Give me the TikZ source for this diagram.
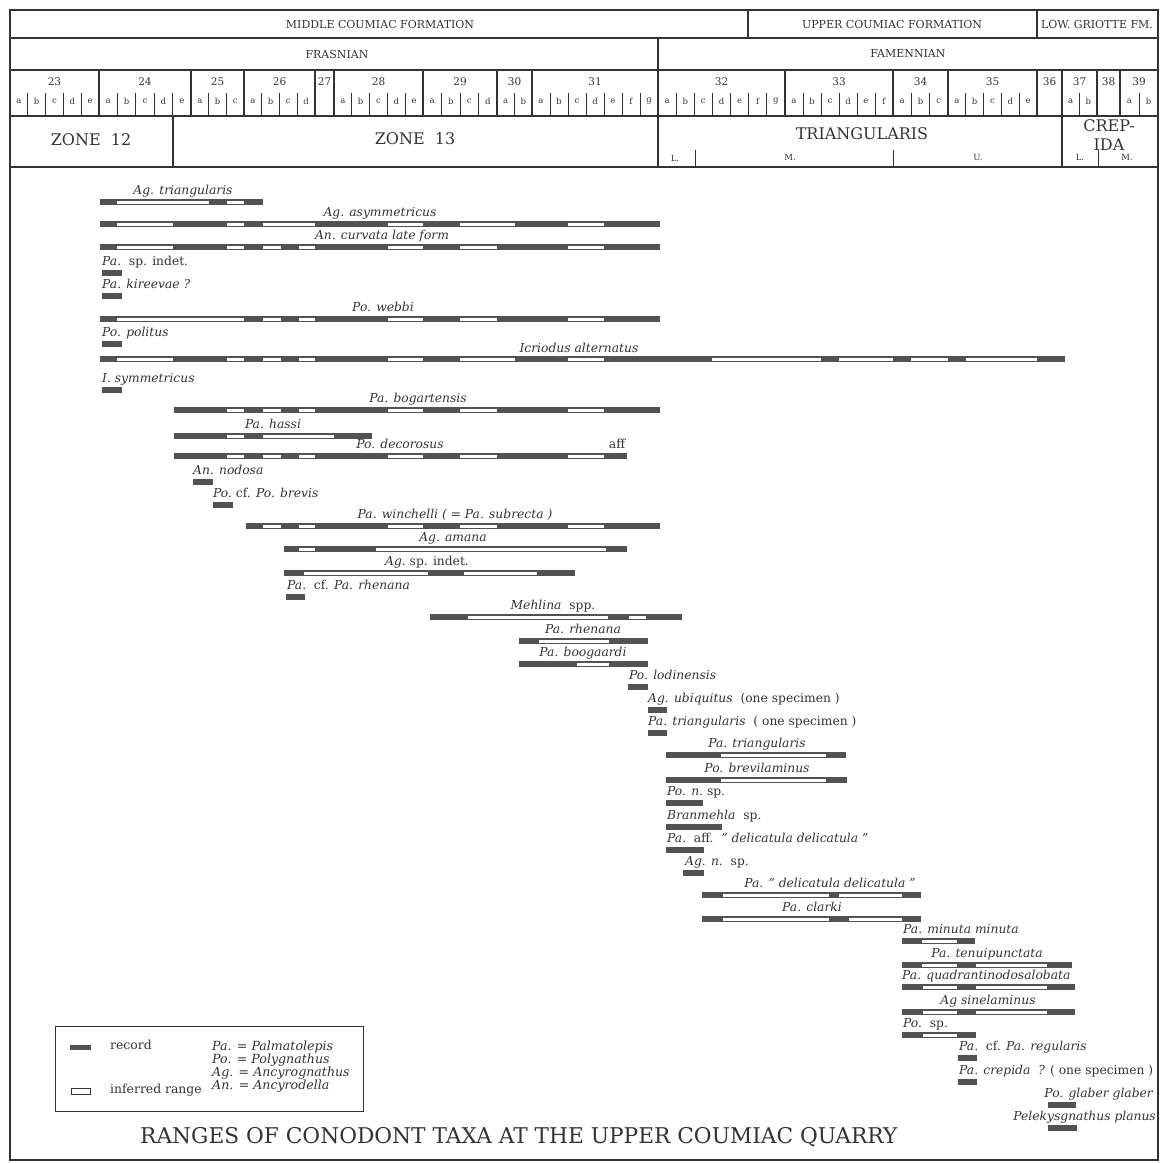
\documentclass[tikz,border=0pt]{standalone}
\usepackage{fontspec}
\setmainfont{DejaVu Serif}
\definecolor{rec}{gray}{0.32}
\definecolor{ink}{gray}{0.2}
\newcommand\taxbar[4]{%
  \fill[rec] (#2,#1-3.2) rectangle (#3,#1+3.2);
  \foreach \wa/\wb in {#4} {\fill[white] (\wa,#1-1.5) rectangle (\wb,#1+1.5);}}
\newcommand\recbar[3]{\fill[rec] (#2,#1-3.2) rectangle (#3,#1+3.2);}
\begin{document}
\begin{tikzpicture}[x=1pt,y=-1pt,
  frame/.style={draw=ink,line width=1.4pt},
  hline/.style={draw=ink,line width=1.1pt},
  tick/.style={draw=ink,line width=0.9pt},
  hdr/.style={inner sep=0pt,text=ink,font=\fontsize{11}{11}\selectfont},
  num/.style={inner sep=0pt,text=ink,font=\fontsize{10.5}{10.5}\selectfont},
  let/.style={inner sep=0pt,text=ink,font=\fontsize{8.5}{8.5}\selectfont},
  zone/.style={inner sep=0pt,text=ink,font=\fontsize{16}{16}\selectfont},
  sub/.style={inner sep=0pt,text=ink,font=\fontsize{8.5}{8.5}\selectfont},
  lab/.style={inner sep=0pt,text=ink,font=\fontsize{12.3}{12.3}\selectfont\itshape},
  leg/.style={inner sep=0pt,text=ink,font=\fontsize{12.4}{12.4}\selectfont},
  legi/.style={inner sep=0pt,text=ink,font=\fontsize{12.6}{12.6}\selectfont\itshape}]
\useasboundingbox (0,0) rectangle (1172,1162);
% ---------- frame and header grid ----------
\draw[frame] (10,10) rectangle (1158,1160);
\foreach \yy in {38,70,116,167} \draw[hline] (10,\yy) -- (1158,\yy);
\draw[hline] (748,10) -- (748,38);
\draw[hline] (1037,10) -- (1037,38);
\draw[hline] (658,38) -- (658,167);
\foreach \xx in {99,191,244,315,334,423,497,532,785,893,948,1037,1062,1097,1120}
  \draw[hline] (\xx,70) -- (\xx,116);
\draw[hline] (173,116) -- (173,167);
\draw[hline] (1062,116) -- (1062,167);
\draw[tick] (695,150) -- (695,167);
\draw[tick] (893,150) -- (893,167);
\draw[tick] (1098,150) -- (1098,167);
% header texts
\node[hdr] (fmMid) at (380,24) {MIDDLE COUMIAC FORMATION};
\node[hdr] (fmUp) at (892,24) {UPPER COUMIAC FORMATION};
\node[hdr] (fmLow) at (1097,24) {LOW. GRIOTTE FM.};
\node[hdr] (frasnian) at (337,54) {FRASNIAN};
\node[hdr] (famennian) at (908,54) {FAMENNIAN};
% beds with sub-beds
\foreach \bn/\xa/\xb/\nn in {23/10/99/5,24/99/191/5,25/191/244/3,26/244/315/4,
  28/334/423/5,29/423/497/4,30/497/532/2,31/532/658/7,32/658/785/7,33/785/893/6,
  34/893/948/3,35/948/1037/5,37/1062/1097/2,39/1120/1158/2}{
  \node[num] (bed\bn) at ({(\xa+\xb)/2},82) {\bn};
  \pgfmathsetmacro\ww{(\xb-\xa)/\nn}
  \foreach \i in {1,...,\nn}{
    \node[let] (bed\bn-\i) at ({\xa+(\i-0.5)*\ww},101)
      {\ifcase\i\or a\or b\or c\or d\or e\or f\or g\fi};
    \ifnum\i<\nn \draw[tick] ({\xa+\i*\ww},93) -- ({\xa+\i*\ww},116);\fi
  }
}
\node[num] (bed27) at (324.5,82) {27};
\node[num] (bed36) at (1049.5,82) {36};
\node[num] (bed38) at (1108.5,82) {38};
% zones
\node[zone] (z12) at (91,140) {ZONE\ \ 12};
\node[zone] (z13) at (415,139) {ZONE\ \ 13};
\node[zone] (ztri) at (862,134) {TRIANGULARIS};
\node[zone] (zcr1) at (1109,126) {CREP-};
\node[zone] (zcr2) at (1109,145) {IDA};
\node[sub] (zL) at (675,158) {L.};
\node[sub] (zM) at (790,157) {M.};
\node[sub] (zU) at (978,157) {U.};
\node[sub] (zcL) at (1080,157) {L.};
\node[sub] (zcM) at (1127,157) {M.};
% ---------- taxa ----------
\taxbar{202}{100}{263}{117/209,227/244}
\node[lab,anchor=base] (t1) at (183,194) {Ag. triangularis};
\taxbar{224}{100}{660}{117/173,227/244,263/315,388/423,460/515,568/604}
\node[lab,anchor=base] (t2) at (380,216) {Ag. asymmetricus};
\taxbar{247}{100}{660}{117/173,227/244,263/281,299/315,388/423,460/497,568/604}
\node[lab,anchor=base] (t3) at (382,239) {An. curvata late form};
\recbar{273}{102}{122}
\node[lab,anchor=base west] (t4) at (102,265) {Pa.\ \ \textup{sp. indet.}};
\recbar{296}{102}{122}
\node[lab,anchor=base west] (t5) at (102,288) {Pa. kireevae ?};
\taxbar{319}{100}{660}{117/244,263/281,299/315,388/423,460/497,568/604}
\node[lab,anchor=base] (t6) at (383,311) {Po. webbi};
\recbar{344}{102}{122}
\node[lab,anchor=base west] (t7) at (102,336) {Po. politus};
\taxbar{359}{100}{1065}{117/173,227/244,263/281,299/315,388/423,460/515,568/604,712/821,839/893,911/948,966/1037}
\node[lab,anchor=base] (t8) at (579,352) {Icriodus alternatus};
\recbar{390}{102}{122}
\node[lab,anchor=base west] (t9) at (102,382) {I. symmetricus};
\taxbar{410}{174}{660}{227/244,263/281,299/315,388/423,460/497,568/604}
\node[lab,anchor=base] (t10) at (418,402) {Pa. bogartensis};
\taxbar{436}{174}{372}{227/244,263/334}
\node[lab,anchor=base] (t11) at (273,428) {Pa. hassi};
\taxbar{456}{174}{627}{227/244,263/281,299/315,388/423,460/497,568/604}
\node[lab,anchor=base] (t12) at (400,448) {Po. decorosus};
\node[leg,anchor=base] (t12a) at (617,448) {aff};
\recbar{482}{193}{213}
\node[lab,anchor=base west] (t13) at (193,474) {An. nodosa};
\recbar{505}{213}{233}
\node[lab,anchor=base west] (t14) at (213,497) {Po.\ \textup{cf.} Po. brevis};
\taxbar{526}{246}{660}{263/281,299/315,388/423,460/497,568/604}
\node[lab,anchor=base] (t15) at (455,518) {Pa. winchelli ( = Pa. subrecta )};
\taxbar{549}{284}{627}{299/315,376/606}
\node[lab,anchor=base] (t16) at (453,541) {Ag. amana};
\taxbar{573}{284}{575}{304/428,464/537}
\node[lab,anchor=base] (t17) at (427,565) {Ag.\ \textup{sp. indet.}};
\recbar{597}{286}{305}
\node[lab,anchor=base west] (t18) at (287,589) {Pa.\ \ \textup{cf.} Pa. rhenana};
\taxbar{617}{430}{682}{468/608,629/646}
\node[lab,anchor=base] (t19) at (553,609) {Mehlina\ \ \textup{spp.}};
\taxbar{641}{519}{648}{539/609}
\node[lab,anchor=base] (t20) at (583,633) {Pa. rhenana};
\taxbar{664}{519}{648}{577/609}
\node[lab,anchor=base] (t21) at (583,656) {Pa. boogaardi};
\recbar{687}{628}{648}
\node[lab,anchor=base west] (t22) at (629,679) {Po. lodinensis};
\recbar{710}{648}{667}
\node[lab,anchor=base west] (t23) at (648,702) {Ag. ubiquitus\ \ \textup{(one specimen )}};
\recbar{733}{648}{667}
\node[lab,anchor=base west] (t24) at (648,725) {Pa. triangularis\ \ \textup{( one specimen )}};
\taxbar{755}{666}{846}{721/826}
\node[lab,anchor=base] (t25) at (757,747) {Pa. triangularis};
\taxbar{780}{666}{847}{721/826}
\node[lab,anchor=base] (t26) at (757,772) {Po. brevilaminus};
\recbar{803}{666}{703}
\node[lab,anchor=base west] (t27) at (667,795) {Po. n.\ \textup{sp.}};
\recbar{827}{666}{722}
\node[lab,anchor=base west] (t28) at (667,819) {Branmehla\ \ \textup{sp.}};
\recbar{850}{666}{704}
\node[lab,anchor=base west] (t29) at (667,842) {Pa.\ \ \textup{aff.}\ \ " delicatula delicatula "};
\recbar{873}{683}{704}
\node[lab,anchor=base west] (t30) at (685,865) {Ag. n.\ \ \textup{sp.}};
\taxbar{895}{702}{921}{723/829,839/902}
\node[lab,anchor=base] (t31) at (830,887) {Pa. " delicatula delicatula "};
\taxbar{919}{702}{921}{723/829,849/902}
\node[lab,anchor=base] (t32) at (812,911) {Pa. clarki};
\taxbar{941}{902}{975}{922/957}
\node[lab,anchor=base west] (t33) at (903,933) {Pa. minuta minuta};
\taxbar{965}{902}{1072}{922/957,976/1047}
\node[lab,anchor=base] (t34) at (987,957) {Pa. tenuipunctata};
\taxbar{987}{902}{1075}{923/957,976/1047}
\node[lab,anchor=base west] (t35) at (902,979) {Pa. quadrantinodosalobata};
\taxbar{1012}{902}{1075}{923/957,976/1047}
\node[lab,anchor=base] (t36) at (988,1004) {Ag sinelaminus};
\taxbar{1035}{902}{976}{923/957}
\node[lab,anchor=base west] (t37) at (903,1027) {Po.\ \ \textup{sp.}};
\recbar{1058}{958}{977}
\node[lab,anchor=base west] (t38) at (959,1050) {Pa.\ \ \textup{cf.} Pa. regularis};
\recbar{1082}{958}{977}
\node[lab,anchor=base west] (t39) at (959,1074) {Pa. crepida\ \ ? \textup{( one specimen )}};
\recbar{1105}{1048}{1076}
\node[lab,anchor=base east] (t40) at (1153,1097) {Po. glaber glaber};
\recbar{1128}{1048}{1077}
\node[lab,anchor=base east] (t41) at (1156,1120) {Pelekysgnathus planus};
% ---------- legend ----------
\draw[draw=ink,line width=0.8pt] (55,1026) rectangle (363,1111);
\fill[rec] (70,1044.5) rectangle (91,1049.5);
\node[leg,anchor=base west] (lrec) at (110,1049) {record};
\draw[draw=ink,line width=0.7pt,fill=white] (71,1088) rectangle (90,1094);
\node[leg,anchor=base west] (linf) at (110,1093) {inferred range};
\node[legi,anchor=base west] (lpa) at (212,1050) {Pa. = Palmatolepis};
\node[legi,anchor=base west] (lpo) at (212,1063) {Po. = Polygnathus};
\node[legi,anchor=base west] (lag) at (212,1076) {Ag. = Ancyrognathus};
\node[legi,anchor=base west] (lan) at (212,1089) {An. = Ancyrodella};
% ---------- title ----------
\node[inner sep=0pt,anchor=base west,text=ink,font=\fontsize{21.7}{21.7}\selectfont] (title) at (140,1143)
  {RANGES OF CONODONT TAXA AT THE UPPER COUMIAC QUARRY};
\end{tikzpicture}
\end{document}
